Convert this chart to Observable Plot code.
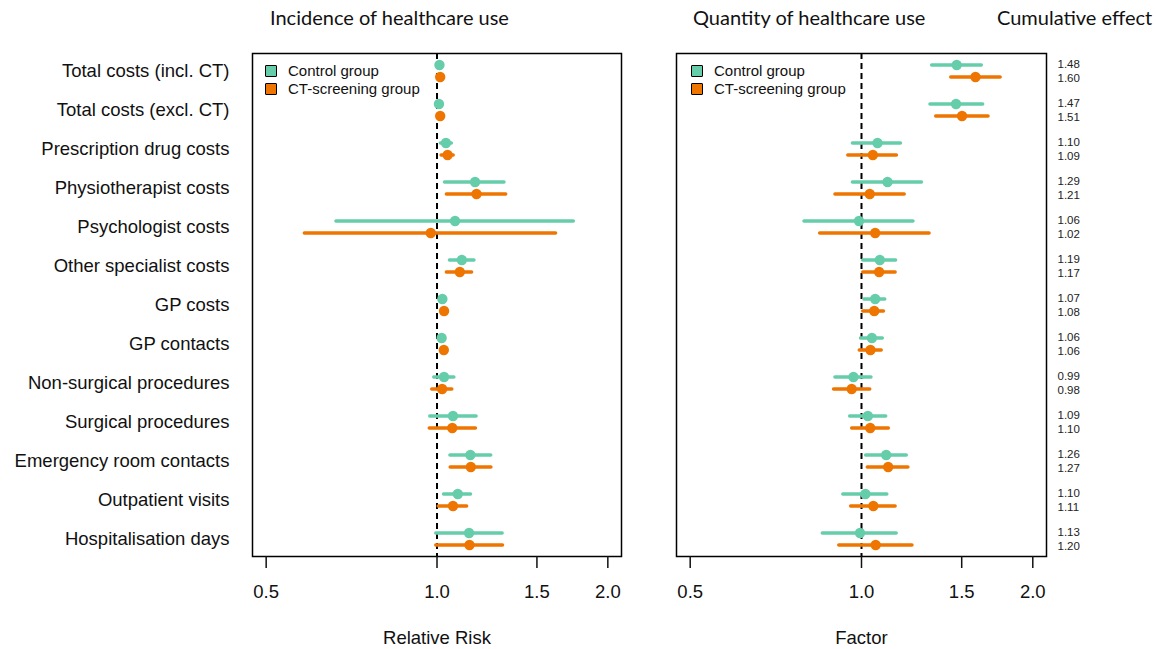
<!DOCTYPE html>
<html>
<head>
<meta charset="utf-8">
<script src="https://cdn.jsdelivr.net/npm/d3@7"></script>
<script src="https://cdn.jsdelivr.net/npm/@observablehq/plot@0.6"></script>
<style>
  html, body { margin: 0; padding: 0; background: #fff; }
  #wrap { position: relative; width: 1156px; height: 649px; overflow: hidden; }
  .plot { position: absolute; top: 0; }
  .plot text { font-family: "Liberation Sans", Arial, sans-serif !important; }
  .title { position: absolute; top: 5px; font-family: Lato, "Open Sans", sans-serif; font-size: 20px; color: #111; white-space: nowrap; }
  .legend { position: absolute; font-family: "Liberation Sans", Arial, sans-serif; font-size: 15px; color: #111; line-height: 18px; }
  .legend div { display: flex; align-items: center; height: 18px; }
  .legend span.key { display: inline-block; width: 10px; height: 10px; border: 1.5px solid #000; margin-right: 11px; border-radius: 1px; }
</style>
</head>
<body>
<div id="wrap">
  <div class="title" style="left:270px">Incidence of healthcare use</div>
  <div class="title" style="left:693px">Quantity of healthcare use</div>
  <div class="title" style="left:997px">Cumulative effect</div>
</div>
<script>
const categories = [
  "Total costs (incl. CT)", "Total costs (excl. CT)", "Prescription drug costs",
  "Physiotherapist costs", "Psychologist costs", "Other specialist costs",
  "GP costs", "GP contacts", "Non-surgical procedures", "Surgical procedures",
  "Emergency room contacts", "Outpatient visits", "Hospitalisation days"
];
const groups = ["Control group", "CT-screening group"];
const colors = ["#66CDAA", "#EE7600"];

// Incidence (Relative Risk)
const rrControl   = [1.010, 1.008, 1.037, 1.167, 1.076, 1.106, 1.022, 1.019, 1.029, 1.067, 1.145, 1.088, 1.139];
const rrControlLo = [1.005, 1.003, 1.016, 1.033, 0.665, 1.054, 1.013, 1.010, 0.989, 0.973, 1.056, 1.029, 0.997];
const rrControlHi = [1.015, 1.013, 1.062, 1.315, 1.742, 1.164, 1.031, 1.028, 1.073, 1.174, 1.246, 1.148, 1.305];
const rrCT        = [1.013, 1.013, 1.044, 1.174, 0.975, 1.097, 1.029, 1.028, 1.021, 1.064, 1.147, 1.067, 1.141];
const rrCTLo      = [1.008, 1.008, 1.019, 1.041, 0.585, 1.041, 1.020, 1.019, 0.981, 0.971, 1.057, 1.007, 0.997];
const rrCTHi      = [1.018, 1.018, 1.070, 1.324, 1.621, 1.153, 1.038, 1.037, 1.064, 1.171, 1.247, 1.130, 1.307];

// Quantity (Factor)
const fControl    = [1.470, 1.466, 1.067, 1.111, 0.990, 1.077, 1.057, 1.043, 0.968, 1.026, 1.105, 1.016, 0.994];
const fControlLo  = [1.331, 1.322, 0.966, 0.966, 0.794, 1.007, 1.012, 0.998, 0.900, 0.955, 1.019, 0.929, 0.855];
const fControlHi  = [1.627, 1.636, 1.173, 1.277, 1.234, 1.150, 1.101, 1.090, 1.041, 1.105, 1.201, 1.110, 1.153];
const fCT         = [1.586, 1.502, 1.047, 1.034, 1.057, 1.074, 1.053, 1.037, 0.961, 1.036, 1.114, 1.049, 1.059];
const fCTLo       = [1.438, 1.353, 0.948, 0.900, 0.846, 1.007, 1.007, 0.993, 0.895, 0.963, 1.026, 0.959, 0.914];
const fCTHi       = [1.756, 1.672, 1.154, 1.191, 1.317, 1.148, 1.095, 1.085, 1.036, 1.117, 1.209, 1.148, 1.229];

// Cumulative effect labels
const cumControl = ["1.48","1.47","1.10","1.29","1.06","1.19","1.07","1.06","0.99","1.09","1.26","1.10","1.13"];
const cumCT      = ["1.60","1.51","1.09","1.21","1.02","1.17","1.08","1.06","0.98","1.10","1.27","1.11","1.20"];

const xTicks = [0.5, 1.0, 1.5, 2.0];
const ext = Math.exp(0.04 * Math.log(4));
const xDomain = [0.5 / ext, 2 * ext];

function rows(est, lo, hi) {
  return categories.map((c, i) => ({cat: c, est: est[i], lo: lo[i], hi: hi[i]}));
}

function panel({ctrl, ct, label, showY, width, marginLeft, marginRight, cum}) {
  const dC = rows(...ctrl), dT = rows(...ct);
  const marks = [
    Plot.ruleX([1], {stroke: "#000", strokeWidth: 2, strokeDasharray: "6,4"}),
    Plot.ruleY(dC, {y: "cat", x1: "lo", x2: "hi", dy: -6, stroke: colors[0], strokeWidth: 3.5, strokeLinecap: "round"}),
    Plot.ruleY(dT, {y: "cat", x1: "lo", x2: "hi", dy: 6, stroke: colors[1], strokeWidth: 3.5, strokeLinecap: "round"}),
    Plot.dot(dC, {y: "cat", x: "est", dy: -6, r: 5.2, fill: colors[0]}),
    Plot.dot(dT, {y: "cat", x: "est", dy: 6, r: 5.2, fill: colors[1]}),
    Plot.frame({stroke: "#000", strokeWidth: 1.5}),
    Plot.axisX(xTicks, {tickSize: 12, tickPadding: 16, tickFormat: d3.format(".1f"), fontSize: 18.5, strokeWidth: 1.5,
      label: label, labelAnchor: "center", labelArrow: "none", labelOffset: 87})
  ];
  if (showY) marks.push(Plot.axisY({tickSize: 0, tickPadding: 23, fontSize: 18.5, label: null}));
  if (cum) {
    marks.push(Plot.text(categories.map((c, i) => ({cat: c, t: cumControl[i]})),
      {y: "cat", text: "t", frameAnchor: "right", dx: 11, dy: -7, textAnchor: "start", fontSize: 11.5, fill: "#222"}));
    marks.push(Plot.text(categories.map((c, i) => ({cat: c, t: cumCT[i]})),
      {y: "cat", text: "t", frameAnchor: "right", dx: 11, dy: 7, textAnchor: "start", fontSize: 11.5, fill: "#222"}));
  }
  return Plot.plot({
    width, height: 649,
    marginLeft, marginRight, marginTop: 53, marginBottom: 93,
    style: {fontFamily: "Liberation Sans, Arial, sans-serif", fontSize: "18.5px", color: "#111", background: "transparent"},
    x: {type: "log", domain: xDomain, axis: null},
    y: {type: "point", domain: categories, padding: 0.45, round: false, axis: null},
    marks
  });
}

const wrap = document.getElementById("wrap");
const p1 = panel({
  ctrl: [rrControl, rrControlLo, rrControlHi], ct: [rrCT, rrCTLo, rrCTHi],
  label: "Relative Risk", showY: true, width: 640, marginLeft: 252, marginRight: 19
});
p1.classList.add("plot"); p1.style.left = "0px";
wrap.appendChild(p1);

const p2 = panel({
  ctrl: [fControl, fControlLo, fControlHi], ct: [fCT, fCTLo, fCTHi],
  label: "Factor", showY: false, width: 516, marginLeft: 36, marginRight: 110, cum: true
});
p2.classList.add("plot"); p2.style.left = "640px";
wrap.appendChild(p2);

function legend(left, top) {
  const lg = document.createElement("div");
  lg.className = "legend";
  lg.style.left = left + "px"; lg.style.top = top + "px";
  groups.forEach((g, i) => {
    const row = document.createElement("div");
    const k = document.createElement("span");
    k.className = "key"; k.style.background = colors[i];
    row.appendChild(k);
    row.appendChild(document.createTextNode(g));
    lg.appendChild(row);
  });
  wrap.appendChild(lg);
}
legend(265, 62);
legend(691, 62);
</script>
</body>
</html>
